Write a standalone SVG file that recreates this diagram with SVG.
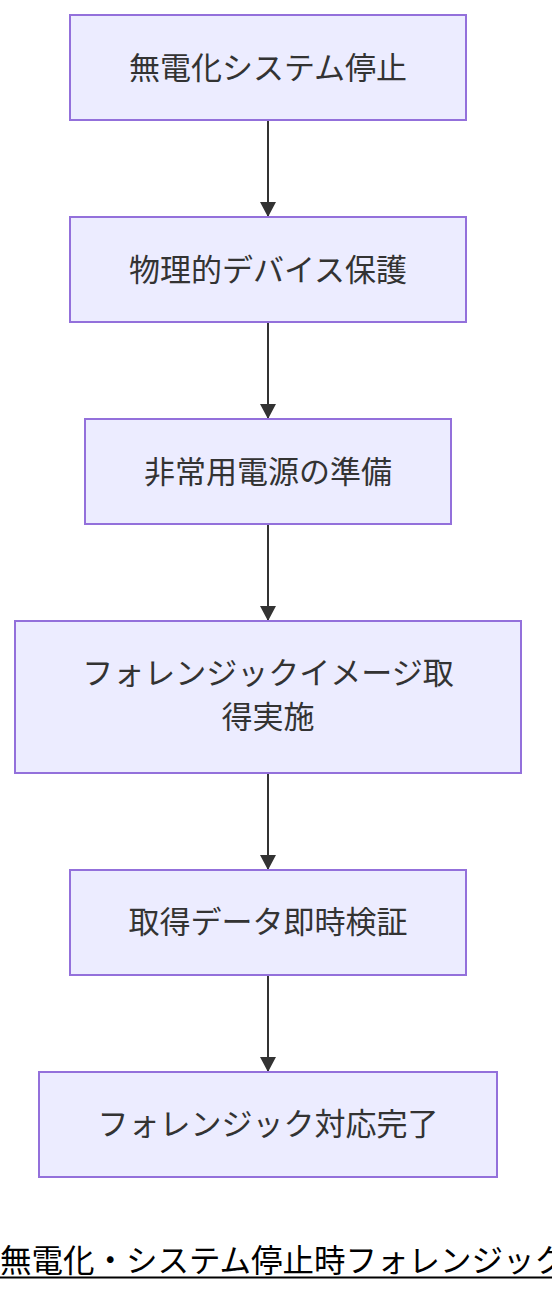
<svg xmlns="http://www.w3.org/2000/svg" width="552" height="1292" viewBox="0 0 552 1292">
<style>
.node rect{fill:#ECECFF;stroke:#9370DB;stroke-width:2}
.node text{font-family:"Noto Sans CJK JP","Noto Sans",sans-serif;font-size:31px;fill:#333;text-anchor:middle;dominant-baseline:central}
.edge{stroke:#333;stroke-width:2;fill:none}
.title{font-family:"Noto Sans CJK JP","Noto Sans",sans-serif;font-size:31.5px;fill:#000}
</style>
<defs>
<marker id="arrow" viewBox="0 0 15 16" refX="15" refY="8" markerWidth="15" markerHeight="16" markerUnits="userSpaceOnUse" orient="auto">
<path d="M0,0 L15,8 L0,16 z" fill="#333"/>
</marker>
</defs>
<rect width="552" height="1292" fill="#fff"/>
<g id="connectors">
<line class="edge" x1="268" y1="120" x2="268" y2="217" marker-end="url(#arrow)"/>
<line class="edge" x1="268" y1="322" x2="268" y2="419" marker-end="url(#arrow)"/>
<line class="edge" x1="268" y1="524" x2="268" y2="621" marker-end="url(#arrow)"/>
<line class="edge" x1="268" y1="773" x2="268" y2="870" marker-end="url(#arrow)"/>
<line class="edge" x1="268" y1="975" x2="268" y2="1072" marker-end="url(#arrow)"/>
</g>
<g id="n1" class="node"><rect x="70" y="15" width="396" height="105"/><text x="268" y="65">無電化システム停止</text></g>
<g id="n2" class="node"><rect x="70" y="217" width="396" height="105"/><text x="268" y="267">物理的デバイス保護</text></g>
<g id="n3" class="node"><rect x="85" y="419" width="366" height="105"/><text x="268" y="469">非常用電源の準備</text></g>
<g id="n4" class="node"><rect x="15" y="621" width="506" height="152"/><text x="268" y="670">フォレンジックイメージ取</text><text x="268" y="714">得実施</text></g>
<g id="n5" class="node"><rect x="70" y="870" width="396" height="105"/><text x="268" y="919">取得データ即時検証</text></g>
<g id="n6" class="node"><rect x="39" y="1072" width="458" height="105"/><text x="268" y="1121">フォレンジック対応完了</text></g>
<g id="title">
<text class="title" x="0" y="1272">無電化・システム停止時フォレンジック</text>
<line x1="0" y1="1277.5" x2="552" y2="1277.5" stroke="#000" stroke-width="2"/>
</g>
</svg>
